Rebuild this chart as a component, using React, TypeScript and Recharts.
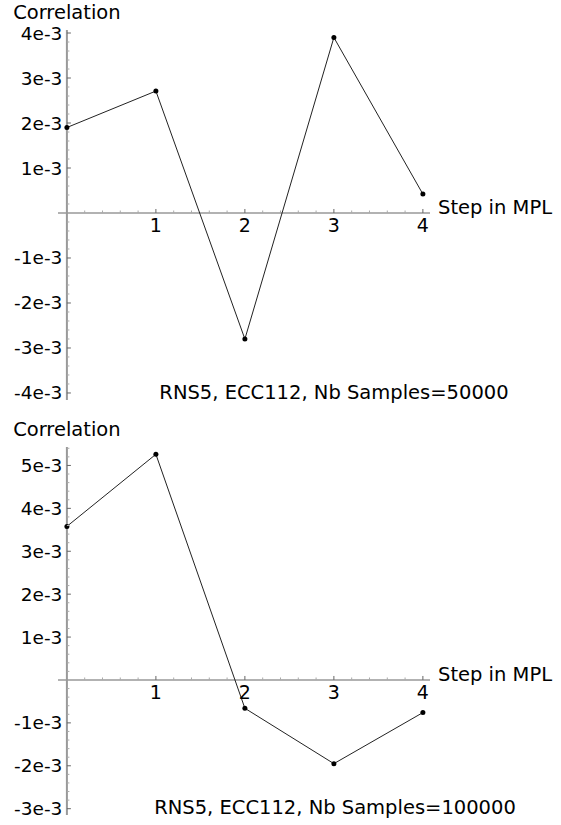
import React from 'react';
import { LineChart, Line, XAxis, YAxis, ReferenceLine } from 'recharts';

// ---------- data ----------
const steps = [0, 1, 2, 3, 4];
const corr50000 = [1.9e-3, 2.71e-3, -2.8e-3, 3.9e-3, 0.42e-3];
const corr100000 = [3.58e-3, 5.26e-3, -0.66e-3, -1.95e-3, -0.76e-3];

const xTickValues = [1, 2, 3, 4];
const xTickLabels = ['1', '2', '3', '4'];

const yTickValues50000 = [-4e-3, -3e-3, -2e-3, -1e-3, 1e-3, 2e-3, 3e-3, 4e-3];
const yTickLabels50000 = ['-4e-3', '-3e-3', '-2e-3', '-1e-3', '1e-3', '2e-3', '3e-3', '4e-3'];

const yTickValues100000 = [-3e-3, -2e-3, -1e-3, 1e-3, 2e-3, 3e-3, 4e-3, 5e-3];
const yTickLabels100000 = ['-3e-3', '-2e-3', '-1e-3', '1e-3', '2e-3', '3e-3', '4e-3', '5e-3'];

const title50000 = 'RNS5, ECC112, Nb Samples=50000';
const title100000 = 'RNS5, ECC112, Nb Samples=100000';
const xName = 'Step in MPL';
const yName = 'Correlation';

// ---------- layout ----------
const W = 561;
const FONT = '"DejaVu Sans", sans-serif';
const X_DOMAIN: [number, number] = [-0.1, 4.08];
const PLOT_LEFT = 58;
const PLOT_RIGHT = 430;
const Y_AXIS_W = 1;
const X_AXIS_H = 1;
const PLOT_W = PLOT_RIGHT - PLOT_LEFT;
const ZERO_X = PLOT_LEFT + (PLOT_W * (0 - X_DOMAIN[0])) / (X_DOMAIN[1] - X_DOMAIN[0]);

function subdivide(step: number, lo: number, hi: number): number[] {
  const out: number[] = [];
  const start = Math.ceil(lo / step - 1e-9);
  const end = Math.floor(hi / step + 1e-9);
  for (let k = start; k <= end; k++) {
    if (k === 0) continue;
    out.push(+(k * step).toPrecision(10));
  }
  return out;
}

type PanelProps = {
  values: number[];
  yTicks: number[];
  yLabels: string[];
  yDomain: [number, number];
  height: number;
  top: number;
  bottom: number;
  title: string;
  titleBaseline: number;
  titleX: number;
};

function Panel(p: PanelProps) {
  const data = steps.map((s, i) => ({ step: s, corr: p.values[i] }));
  const plotH = p.height - p.top - p.bottom;
  const zeroY = p.top + (plotH * (p.yDomain[1] - 0)) / (p.yDomain[1] - p.yDomain[0]);
  const xAll = subdivide(0.2, 0, 4);
  const yAll = subdivide(0.2e-3, p.yDomain[0], p.yDomain[1]);

  const isMajorX = (v: number) => Math.abs(v - Math.round(v)) < 1e-6;
  const isMajorY = (v: number) => Math.abs(v * 1000 - Math.round(v * 1000)) < 1e-6;

  const renderXTick = (props: any) => {
    const { x, payload } = props;
    const v = payload.value as number;
    const major = isMajorX(v);
    const idx = xTickValues.findIndex((t) => Math.abs(t - v) < 1e-6);
    return (
      <g key={`xt-${v}`}>
        <line x1={x} x2={x} y1={zeroY} y2={zeroY - (major ? 4 : 2.5)} stroke={major ? '#666' : '#aaa'} strokeWidth={1} />
        {idx >= 0 && (
          <text x={x} y={zeroY + 19.5} textAnchor="middle" fontSize={19} fontFamily={FONT} fill="#000">
            {xTickLabels[idx]}
          </text>
        )}
      </g>
    );
  };

  const renderYTick = (props: any) => {
    const { y, payload } = props;
    const v = payload.value as number;
    const major = isMajorY(v);
    const idx = p.yTicks.findIndex((t) => Math.abs(t - v) < 1e-9);
    return (
      <g key={`yt-${v}`}>
        <line x1={ZERO_X} x2={ZERO_X + (major ? 4 : 2.5)} y1={y} y2={y} stroke={major ? '#666' : '#aaa'} strokeWidth={1} />
        {idx >= 0 && (
          <text x={ZERO_X - 4.5} y={y + 6.5} textAnchor="end" fontSize={18.5} fontFamily={FONT} fill="#000">
            {p.yLabels[idx]}
          </text>
        )}
      </g>
    );
  };

  const XName = (props: any) => {
    const vb = props.viewBox || {};
    return (
      <text x={vb.x + vb.width + 8} y={vb.y + 1} fontSize={19.5} fontFamily={FONT} fill="#000">
        {xName}
      </text>
    );
  };
  const YName = (props: any) => {
    const vb = props.viewBox || {};
    return (
      <text x={vb.x} y={vb.y - 11} textAnchor="middle" fontSize={19.5} fontFamily={FONT} fill="#000">
        {yName}
      </text>
    );
  };

  return (
    <div style={{ position: 'relative', width: W, height: p.height }}>
      <LineChart
        width={W}
        height={p.height}
        data={data}
        margin={{ top: p.top, right: W - PLOT_RIGHT, bottom: p.bottom - X_AXIS_H, left: PLOT_LEFT - Y_AXIS_W }}
      >
        <XAxis
          dataKey="step"
          type="number"
          domain={X_DOMAIN}
          allowDataOverflow
          ticks={xAll}
          interval={0}
          height={X_AXIS_H}
          axisLine={false}
          tickLine={false}
          tick={renderXTick}
        />
        <YAxis
          type="number"
          domain={p.yDomain}
          allowDataOverflow
          ticks={yAll}
          interval={0}
          width={Y_AXIS_W}
          axisLine={false}
          tickLine={false}
          tick={renderYTick}
        />
        <ReferenceLine y={0} stroke="#999" strokeWidth={1.5} label={<XName />} />
        <ReferenceLine x={0} stroke="#999" strokeWidth={2} label={<YName />} />
        <Line
          type="linear"
          dataKey="corr"
          stroke="#222"
          strokeWidth={1}
          dot={{ r: 2.5, fill: '#000', stroke: 'none' }}
          activeDot={false}
          isAnimationActive={false}
        />
      </LineChart>
      <svg
        width={W}
        height={26}
        style={{ position: 'absolute', left: 0, top: p.titleBaseline - 20, display: 'block', pointerEvents: 'none' }}
      >
        <text x={p.titleX} y={20} textAnchor="middle" fontSize={19.5} fontFamily={FONT} fill="#000">
          {p.title}
        </text>
      </svg>
    </div>
  );
}

export default function App() {
  return (
    <div style={{ position: 'absolute', left: 0, top: 0, width: W, height: 825, background: '#fff', fontFamily: FONT }}>
      <Panel
        values={corr50000}
        yTicks={yTickValues50000}
        yLabels={yTickLabels50000}
        yDomain={[-4.156e-3, 4.067e-3]}
        height={410}
        top={30}
        bottom={10}
        title={title50000}
        titleBaseline={399}
        titleX={334}
      />
      <Panel
        values={corr100000}
        yTicks={yTickValues100000}
        yLabels={yTickLabels100000}
        yDomain={[-3.147e-3, 5.43e-3]}
        height={415}
        top={37}
        bottom={10}
        title={title100000}
        titleBaseline={404}
        titleX={335}
      />
    </div>
  );
}
